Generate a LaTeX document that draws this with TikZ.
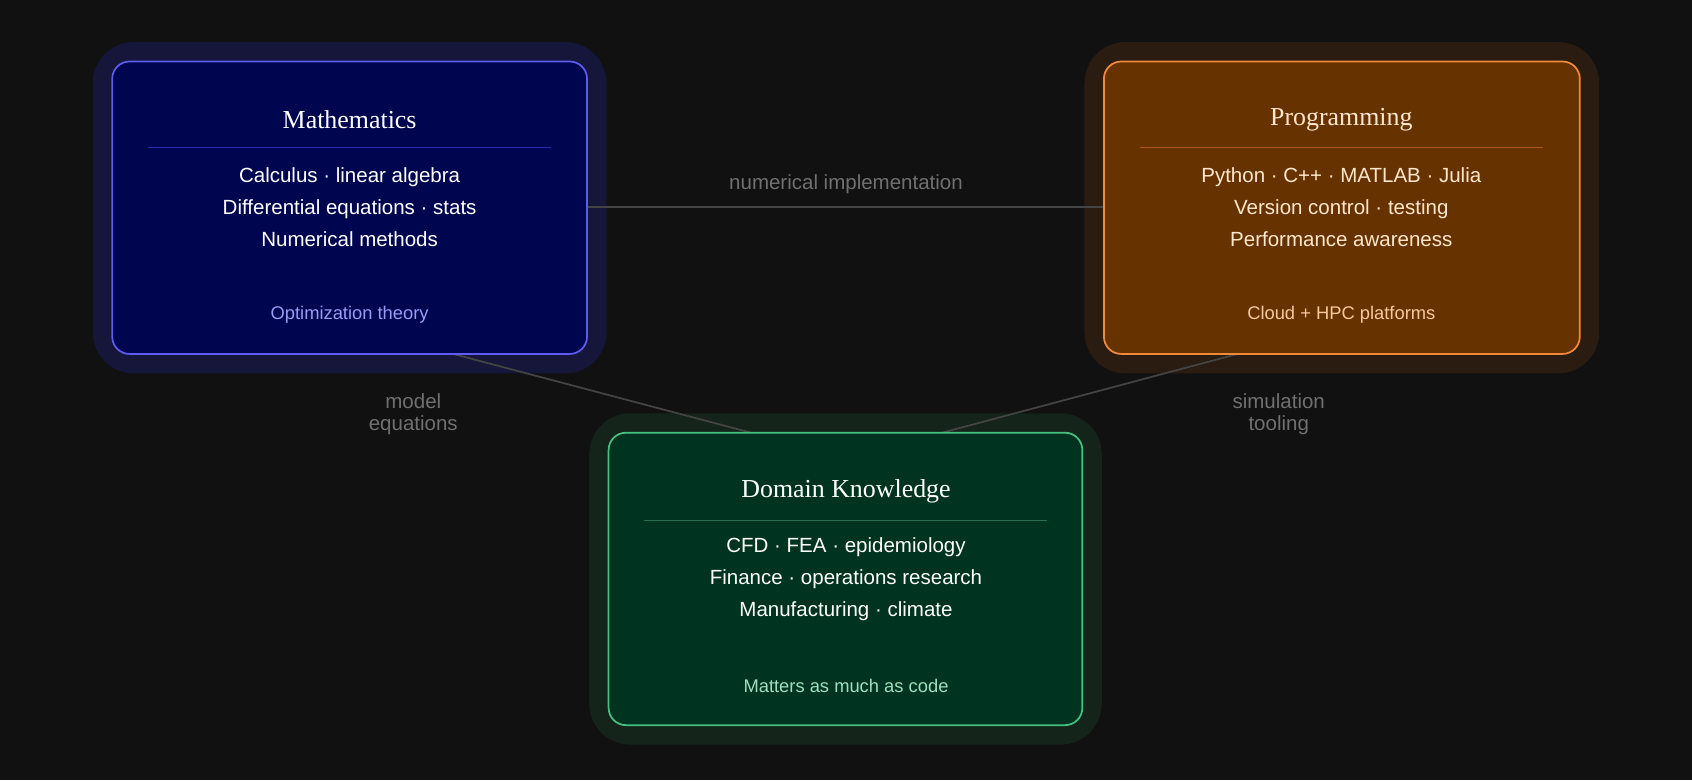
\documentclass[tikz,border=0pt]{standalone}
\usepackage{fontspec}
\setmainfont{Liberation Serif}
\setsansfont{Liberation Sans}
\definecolor{bg}{HTML}{111111}
\definecolor{mfill}{HTML}{000550}
\definecolor{mline}{HTML}{5C5CF0}
\definecolor{mglow}{HTML}{15163A}
\definecolor{mrule}{HTML}{2A2AB0}
\definecolor{mnote}{HTML}{9A9AF5}
\definecolor{pfill}{HTML}{663300}
\definecolor{pline}{HTML}{F08A3C}
\definecolor{pglow}{HTML}{2A1C10}
\definecolor{prule}{HTML}{B0561A}
\definecolor{pnote}{HTML}{F5C8A0}
\definecolor{ptext}{HTML}{FFE6CC}
\definecolor{dfill}{HTML}{003320}
\definecolor{dline}{HTML}{45C080}
\definecolor{dglow}{HTML}{14241B}
\definecolor{drule}{HTML}{2A7050}
\definecolor{dnote}{HTML}{A0E0C0}
\definecolor{conn}{HTML}{444444}
\definecolor{ctext}{HTML}{707070}
\begin{document}
\begin{tikzpicture}[x=1pt,y=-1pt,
  glow/.style={rounded corners=38pt,draw=none},
  card/.style={rounded corners=16pt,line width=1.6pt},
  title/.style={font=\fontsize{24}{28}\selectfont},
  body/.style={font=\sffamily\fontsize{19}{29.5}\selectfont,align=center},
  note/.style={font=\sffamily\fontsize{17}{20}\selectfont},
  link/.style={draw=conn,line width=1.6pt},
  lab/.style={text=ctext,font=\sffamily\fontsize{19}{22}\selectfont,align=center}]
\fill[bg] (0,0) rectangle (1568,723);
\useasboundingbox (0,0) rectangle (1568,723);
% glows
\fill[glow,mglow] (86,39) rectangle (562,346);
\fill[glow,pglow] (1005,39) rectangle (1482,346);
\fill[glow,dglow] (546,383) rectangle (1021,690);
% connectors
\coordinate (m1) at (544,192); \coordinate (p1) at (1023,192);
\coordinate (m2) at (420,328); \coordinate (d1) at (696,401);
\coordinate (p2) at (1147,328); \coordinate (d2) at (873,401);
\draw[link] (m1) -- (p1);
\draw[link] (m2) -- (d1);
\draw[link] (p2) -- (d2);
\node[lab] (l1) at (784,171) {numerical implementation};
\node[lab] (l2) at (383,384) {model\\[-2pt]equations};
\node[lab] (l3) at (1185,384) {simulation\\[-2pt]tooling};
% Mathematics
\draw[card,fill=mfill,draw=mline] (104,57) rectangle (544,328);
\node[title,text=white] (mt) at (324,111) {Mathematics};
\draw[mrule,line width=0.8pt] (137,137) -- (511,137);
\node[body,text=white] (mb) at (324,192) {Calculus · linear algebra\\Differential equations · stats\\Numerical methods};
\node[note,text=mnote] (mn) at (324,292) {Optimization theory};
% Programming
\draw[card,fill=pfill,draw=pline] (1023,57) rectangle (1464,328);
\node[title,text=ptext] (pt) at (1243,111) {Programming};
\draw[prule,line width=0.8pt] (1056,137) -- (1430,137);
\node[body,text=ptext] (pb) at (1243,192) {Python · C++ · MATLAB · Julia\\Version control · testing\\Performance awareness};
\node[note,text=pnote] (pn) at (1243,292) {Cloud + HPC platforms};
% Domain
\draw[card,fill=dfill,draw=dline] (564,401) rectangle (1003,672);
\node[title,text=white] (dt) at (784,455) {Domain Knowledge};
\draw[drule,line width=0.8pt] (597,482) -- (970,482);
\node[body,text=white] (db) at (784,537) {CFD · FEA · epidemiology\\Finance · operations research\\Manufacturing · climate};
\node[note,text=dnote] (dn) at (784,636) {Matters as much as code};
\end{tikzpicture}
\end{document}
